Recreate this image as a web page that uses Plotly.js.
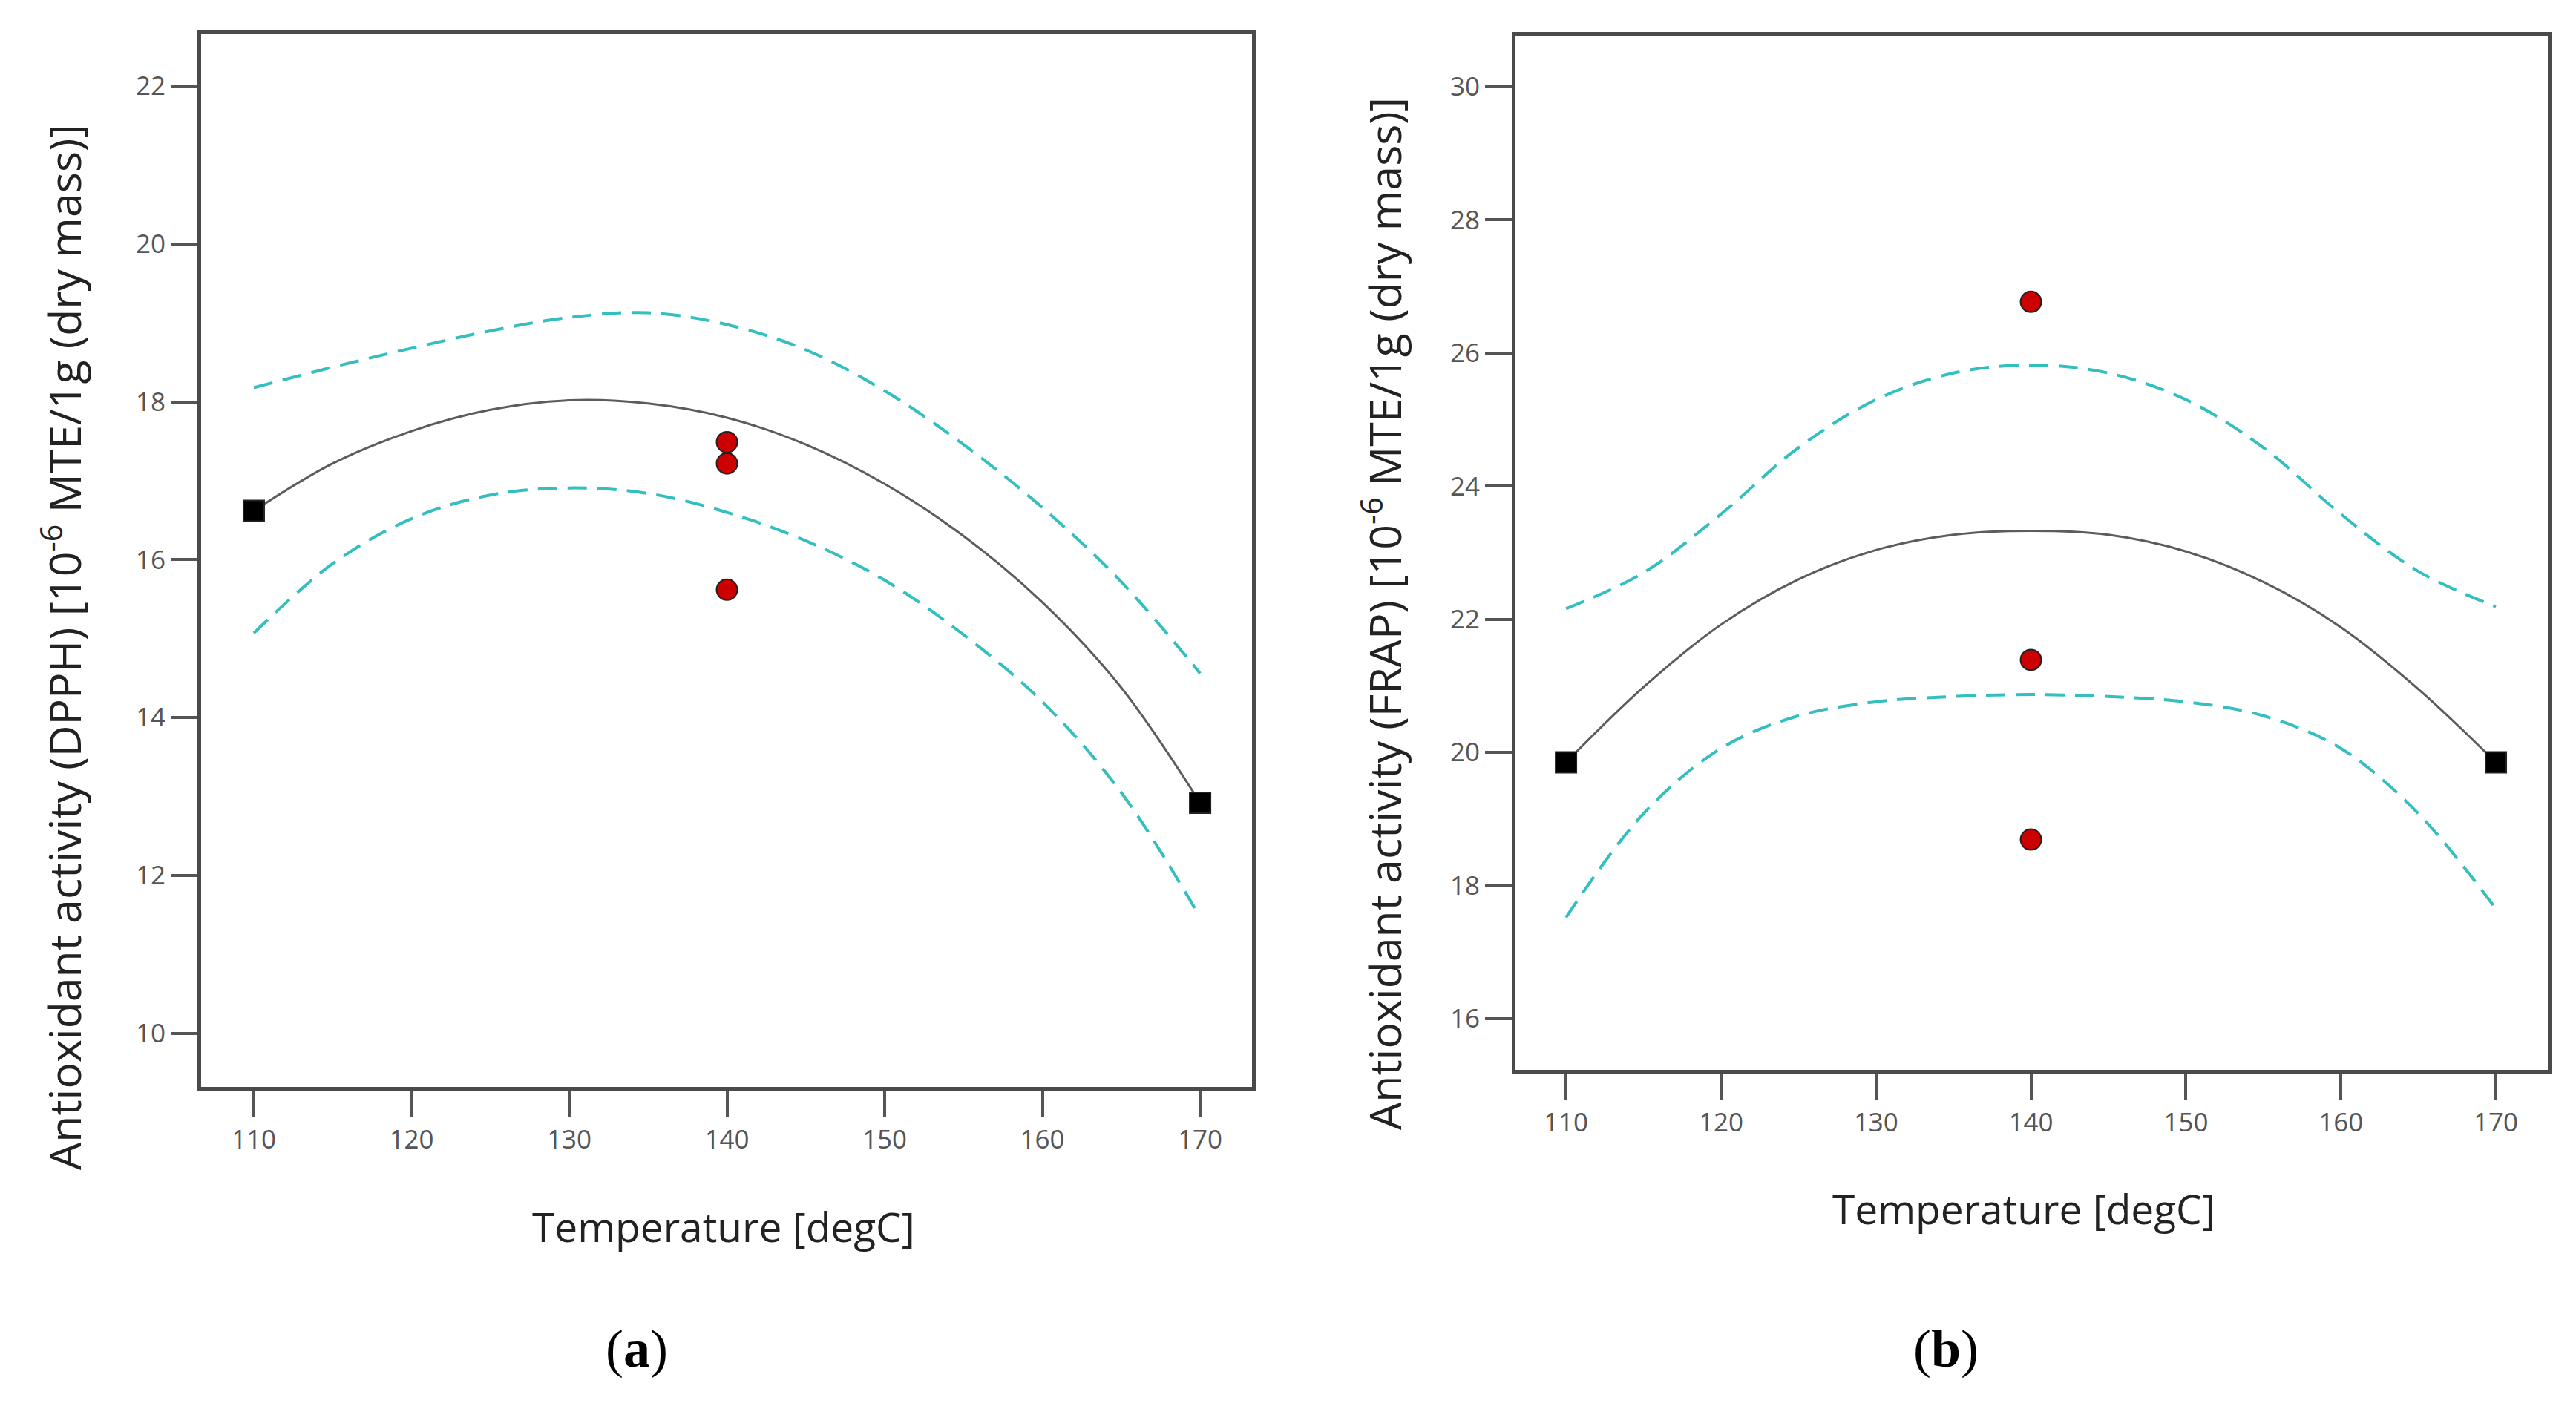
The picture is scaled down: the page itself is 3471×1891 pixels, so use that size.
<!DOCTYPE html>
<html>
<head>
<meta charset="utf-8">
<script src="https://cdn.plot.ly/plotly-3.0.1.min.js"></script>
<style>
  html, body { margin: 0; padding: 0; background: #fff; }
  #chart { width: 3471px; height: 1891px; }
</style>
</head>
<body>
<div id="chart"></div>
<script>
// Temperature grid for the model curves (degC)
const tempGrid = [110, 115, 120, 125, 130, 135, 140, 145, 150, 155, 160, 165, 170];

// Panel (a): DPPH
const dpphFit   = [16.62, 17.22, 17.63, 17.90, 18.02, 17.98, 17.80, 17.46, 16.96, 16.30, 15.46, 14.38, 12.92];
const dpphUpper = [18.18, 18.44, 18.68, 18.90, 19.07, 19.13, 18.98, 18.66, 18.14, 17.46, 16.66, 15.72, 14.56];
const dpphLower = [15.07, 15.95, 16.52, 16.82, 16.91, 16.84, 16.60, 16.24, 15.74, 15.05, 14.20, 13.05, 11.47];
const dpphDesignT = [110, 170];
const dpphDesignY = [16.62, 12.92];
const dpphActualT = [140, 140, 140];
const dpphActualY = [17.49, 17.22, 15.62];

// Panel (b): FRAP
const frapFit   = [19.85, 20.98, 21.92, 22.60, 23.04, 23.27, 23.33, 23.27, 23.02, 22.56, 21.88, 20.95, 19.85];
const frapUpper = [22.16, 22.70, 23.58, 24.58, 25.30, 25.70, 25.82, 25.70, 25.30, 24.58, 23.58, 22.72, 22.19];
const frapLower = [17.52, 19.08, 20.06, 20.55, 20.76, 20.84, 20.87, 20.84, 20.76, 20.55, 20.06, 19.08, 17.65];
const frapDesignT = [110, 170];
const frapDesignY = [19.85, 19.85];
const frapActualT = [140, 140, 140];
const frapActualY = [26.77, 21.39, 18.69];

const xTicks = [110, 120, 130, 140, 150, 160, 170];
const dpphTicks = [10, 12, 14, 16, 18, 20, 22];
const frapTicks = [16, 18, 20, 22, 24, 26, 28, 30];

const W = 3471, H = 1891;
const TEAL = '#33BEBF';
const FIT = '#5c5c5c';

function px(x) { return x / W; }
function py(y) { return 1 - y / H; }

function curve(x, y, xa, ya, dashed) {
    return {
        x, y, xaxis: xa, yaxis: ya,
        type: 'scatter', mode: 'lines',
        line: dashed
            ? { color: TEAL, width: 4, dash: '26px,14px', shape: 'spline', smoothing: 1 }
            : { color: FIT, width: 3, shape: 'spline', smoothing: 1 },
        hoverinfo: 'skip', showlegend: false
    };
}

function points(x, y, xa, ya, symbol, color) {
    return {
        x, y, xaxis: xa, yaxis: ya,
        type: 'scatter', mode: 'markers',
        marker: { symbol, size: 28, color, line: { color: '#222', width: 2 } },
        hoverinfo: 'skip', showlegend: false, cliponaxis: false
    };
}

const traces = [
    curve(tempGrid, dpphUpper, 'x', 'y', true),
    curve(tempGrid, dpphLower, 'x', 'y', true),
    curve(tempGrid, dpphFit, 'x', 'y', false),
    points(dpphDesignT, dpphDesignY, 'x', 'y', 'square', '#000'),
    points(dpphActualT, dpphActualY, 'x', 'y', 'circle', '#cc0000'),

    curve(tempGrid, frapUpper, 'x2', 'y2', true),
    curve(tempGrid, frapLower, 'x2', 'y2', true),
    curve(tempGrid, frapFit, 'x2', 'y2', false),
    points(frapDesignT, frapDesignY, 'x2', 'y2', 'square', '#000'),
    points(frapActualT, frapActualY, 'x2', 'y2', 'circle', '#cc0000')
];

const tickFont = { family: 'Open Sans', size: 35, color: '#555' };
const axisCommon = {
    showgrid: false, zeroline: false,
    showline: true, linecolor: '#4a4a4a', linewidth: 5, mirror: true,
    ticks: 'outside', ticklen: 36, tickwidth: 4, tickcolor: '#555',
    tickfont: tickFont, fixedrange: true
};

const xTitleFont = { family: 'Open Sans', size: 55, color: '#222' };
const yTitleFont = { family: 'Open Sans', size: 59, color: '#222' };

const annotations = [
    { text: 'Temperature [degC]', x: px(975), y: py(1652), font: xTitleFont },
    { text: 'Temperature [degC]', x: px(2727), y: py(1628), font: xTitleFont },
    { text: 'Antioxidant activity (DPPH) [10<sup>-6</sup> MTE/1g (dry mass)]', x: px(83), y: py(872),
      textangle: -90, font: yTitleFont },
    { text: 'Antioxidant activity (FRAP) [10<sup>-6</sup> MTE/1g (dry mass)]', x: px(1862), y: py(827),
      textangle: -90, font: yTitleFont }
].map(a => Object.assign({ xref: 'paper', yref: 'paper', showarrow: false,
    xanchor: 'center', yanchor: 'middle' }, a));

const captionFont = { family: 'Liberation Serif', size: 72, color: '#000' };
annotations.push(
    { text: '(<b>a</b>)', x: px(858), y: py(1818), xref: 'paper', yref: 'paper', showarrow: false,
      font: captionFont, xanchor: 'center', yanchor: 'middle' },
    { text: '(<b>b</b>)', x: px(2622), y: py(1818), xref: 'paper', yref: 'paper', showarrow: false,
      font: captionFont, xanchor: 'center', yanchor: 'middle' }
);

const layout = {
    width: W, height: H,
    margin: { l: 0, r: 0, t: 0, b: 0 },
    paper_bgcolor: '#fff', plot_bgcolor: '#fff',
    showlegend: false,
    xaxis: Object.assign({}, axisCommon, {
        domain: [px(271), px(1687)], range: [106.66, 173.29], tickvals: xTicks, anchor: 'y'
    }),
    yaxis: Object.assign({}, axisCommon, {
        domain: [py(1465), py(46)], range: [9.32, 22.66], tickvals: dpphTicks, anchor: 'x'
    }),
    xaxis2: Object.assign({}, axisCommon, {
        domain: [px(2042), px(3433)], range: [106.74, 173.35], tickvals: xTicks, anchor: 'y2'
    }),
    yaxis2: Object.assign({}, axisCommon, {
        domain: [py(1442), py(48)], range: [15.23, 30.77], tickvals: frapTicks, anchor: 'x2'
    }),
    annotations
};

Plotly.newPlot('chart', traces, layout, { displayModeBar: false, staticPlot: true });
</script>
</body>
</html>
